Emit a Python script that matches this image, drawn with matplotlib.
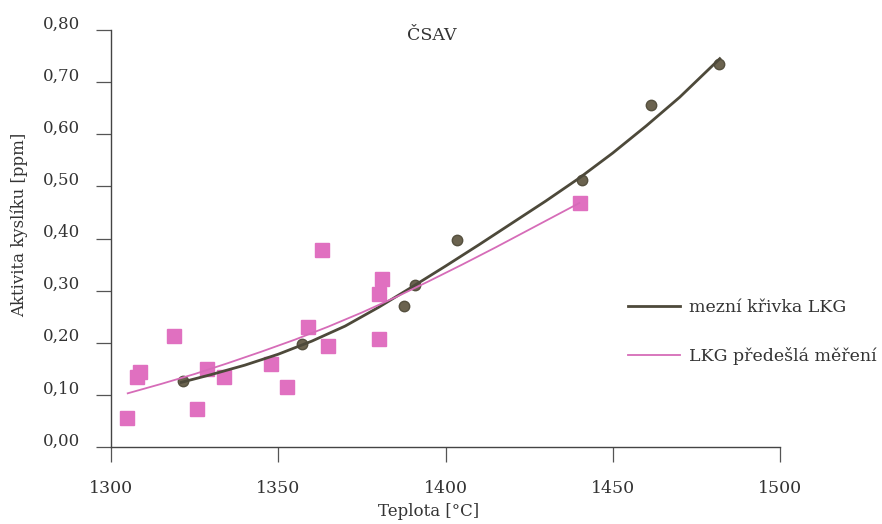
import matplotlib
matplotlib.use("Agg")
import matplotlib.pyplot as plt
from matplotlib.transforms import ScaledTranslation

plt.rcParams['font.family'] = ['DejaVu Serif']

# ČSAV measurements (circles)
csav_t = [1321.4, 1357.1, 1387.6, 1390.9, 1403.3, 1440.7, 1461.3, 1481.8]
csav_a = [0.127, 0.198, 0.270, 0.311, 0.397, 0.512, 0.656, 0.734]

# LKG previous measurements (squares)
lkg_t = [1304.7, 1307.7, 1308.7, 1318.8, 1325.8, 1328.7, 1333.8, 1347.7,
         1352.7, 1359.0, 1363.0, 1364.8, 1380.0, 1380.0, 1381.0, 1440.2]
lkg_a = [0.056, 0.135, 0.143, 0.213, 0.072, 0.150, 0.134, 0.160,
         0.115, 0.231, 0.377, 0.194, 0.208, 0.293, 0.322, 0.468]

# limit curve "mezní křivka LKG"
curve_t = [1321, 1330, 1340, 1350, 1360, 1370, 1380, 1390, 1400, 1410,
           1420, 1430, 1440, 1450, 1460, 1470, 1482]
curve_a = [0.124, 0.139, 0.157, 0.178, 0.203, 0.232, 0.268, 0.307, 0.347, 0.388,
           0.430, 0.472, 0.516, 0.564, 0.616, 0.671, 0.745]

# "LKG předešlá měření" trend
prev_t = [1305, 1315, 1325, 1335, 1345, 1355, 1365, 1375, 1385, 1395,
          1405, 1415, 1425, 1440]
prev_a = [0.103, 0.121, 0.140, 0.161, 0.183, 0.206, 0.231, 0.258, 0.287, 0.318,
          0.350, 0.383, 0.417, 0.468]

xticks = [1300, 1350, 1400, 1450, 1500]
yticks = [0.0, 0.1, 0.2, 0.3, 0.4, 0.5, 0.6, 0.7, 0.8]

fig = plt.figure(figsize=(8.82, 5.24), dpi=100)
ax = fig.add_axes([111/882, 1-447/524, (780-111)/882, (447-30)/524])

pink = '#e070c0'
olive = '#6b634f'
dark = '#4d493a'

ax.plot(lkg_t, lkg_a, linestyle='none', marker='s', ms=10, color=pink, mec=pink, zorder=3)
ax.plot(csav_t, csav_a, linestyle='none', marker='o', ms=7.5, color=olive, mec='#55503f', zorder=4)
l1, = ax.plot(curve_t, curve_a, color=dark, lw=2.0, zorder=5, label='mezní křivka LKG')
l2, = ax.plot(prev_t, prev_a, color='#d66cb8', lw=1.3, zorder=5, label='LKG předešlá měření')

ax.set_xlim(1300, 1500)
ax.set_ylim(0, 0.8)
ax.set_xticks(xticks)
ax.set_yticks(yticks)
ax.set_xticklabels([str(t) for t in xticks])
ax.set_yticklabels([f"{v:.2f}".replace('.', ',') for v in yticks])
for s in ['top', 'right']:
    ax.spines[s].set_visible(False)
for s in ['left', 'bottom']:
    ax.spines[s].set_color('#444444')
    ax.spines[s].set_linewidth(1.0)
ax.tick_params(axis='both', direction='out', length=11, width=0.9, color='#555555',
               labelcolor='#333333')
ax.tick_params(axis='x', pad=13, labelsize=12.5)
ax.tick_params(axis='y', pad=11, labelsize=12)

up = ScaledTranslation(0, 8/100, fig.dpi_scale_trans)
for lab in ax.get_yticklabels():
    lab.set_transform(lab.get_transform() + up)

ax.set_xlabel('Teplota [°C]', fontsize=12, color='#333333')
ax.xaxis.set_label_coords(0.474, -0.134)
ax.set_ylabel('Aktivita kyslíku [ppm]', fontsize=12, color='#333333')
ax.yaxis.set_label_coords(-0.124, 0.532)

ax.text(1396, 0.79, 'ČSAV', ha='center', va='center', fontsize=12.5, color='#333333')

fig.legend(handles=[l1, l2], loc='upper left', bbox_to_anchor=(628/882, 1-299/524),
           frameon=False, fontsize=12.5, handlelength=3.0, handletextpad=0.5,
           labelspacing=1.8, borderpad=0, borderaxespad=0, labelcolor='#333333')

fig.savefig('out.png', dpi=100, facecolor='white')
